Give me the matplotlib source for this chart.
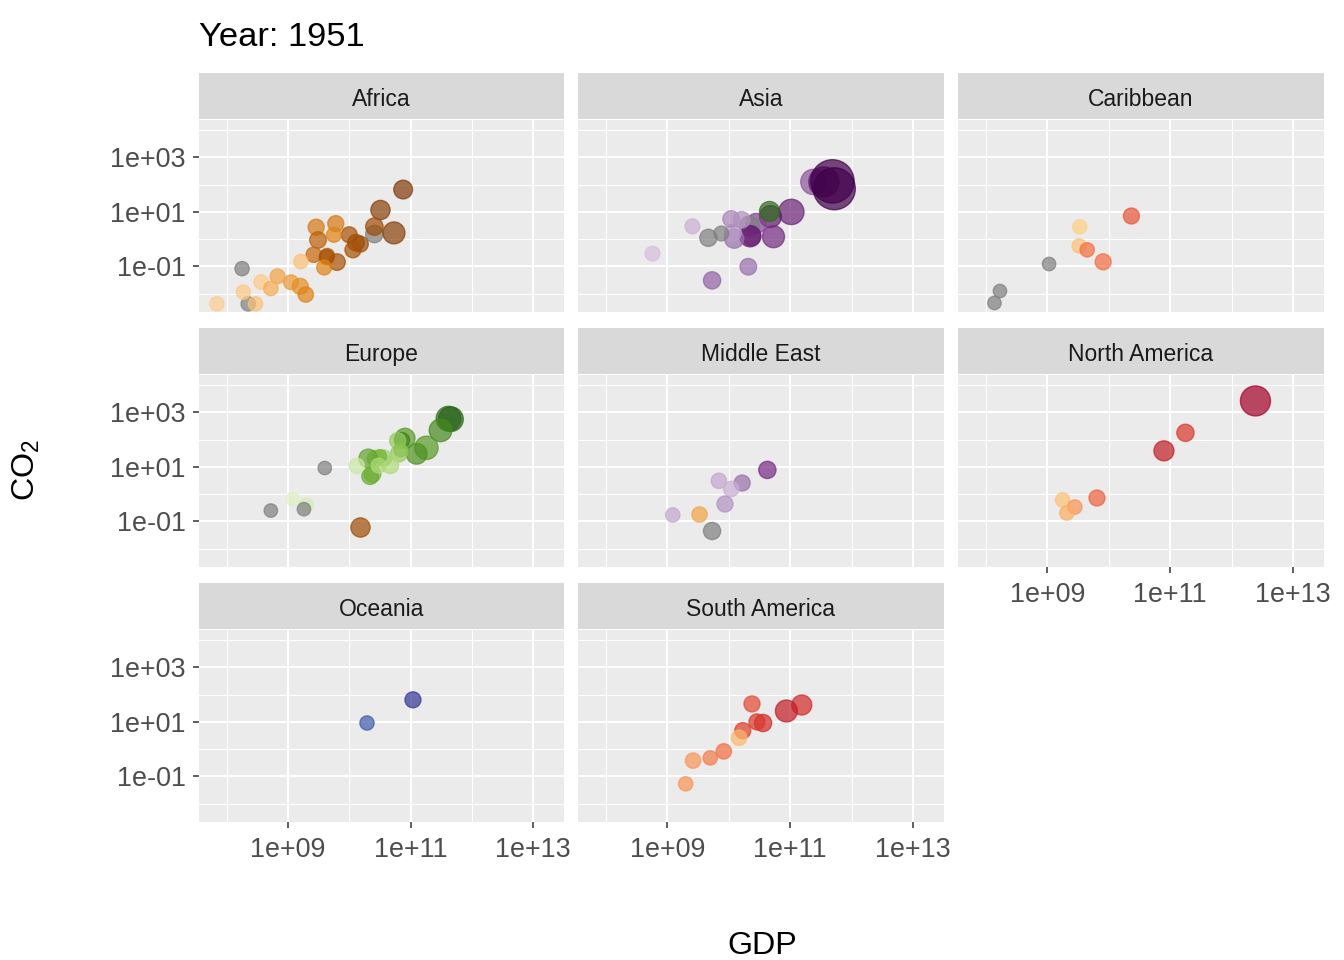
import matplotlib
matplotlib.use('Agg')
import matplotlib.pyplot as plt
import numpy as np
from matplotlib.colors import LinearSegmentedColormap

plt.rcParams['font.family'] = ['Liberation Sans', 'DejaVu Sans']
plt.rcParams['mathtext.default'] = 'regular'

# values: log10 gdp, log10 co2, population (millions, rough),
# income level 0-1 (nan = no data, drawn grey)
nan = float('nan')

africa_gdp = [8.25, 8.35, 10.41, 10.88, 10.51, 10.41, 10.73, 10.00, 9.78, 9.46, 9.75, 9.49, 10.11, 10.18, 10.06, 9.42, 9.64,
              9.63, 9.80, 9.59, 9.21, 8.83, 8.56, 8.72, 9.05, 9.20, 9.29, 8.27, 7.84, 8.47]
africa_co2 = [-1.08, -2.37, 0.19, 1.82, 1.07, 0.46, 0.23, 0.16, 0.57, 0.44, 0.16, -0.03, -0.13, -0.18, -0.39, -0.57, -0.61,
              -0.66, -0.84, -1.04, -0.82, -1.36, -1.57, -1.81, -1.58, -1.73, -2.03, -1.94, -2.37, -2.37]
africa_pop = [1, 1, 12, 20, 24, 12, 49, 5.5, 5.5, 5.5, 2, 8, 8, 5.5, 5.5, 3.3, 2, 2, 8, 2, 1, 2, 1, 1, 2, 5.5, 3.3, 1, 1, 1]
africa_level = [nan, nan, nan, 1.0, 0.95, 0.85, 0.95, 0.8, 0.55, 0.55, 0.5, 0.7, 0.85, 0.85, 0.8, 0.65, 0.75,
                0.8, 0.8, 0.5, 0.2, 0.35, 0.15, 0.3, 0.4, 0.45, 0.5, 0.15, 0.12, 0.2]

asia_gdp = [11.38, 11.55, 11.69, 11.72, 11.02, 10.68, 10.45, 10.34, 10.73, 10.35, 10.37, 10.09, 10.07, 10.04,
            10.21, 9.88, 9.67, 9.41, 8.76, 10.32, 9.73]
asia_co2 = [2.10, 2.10, 2.12, 1.85, 1.00, 0.83, 0.58, 0.48, 0.09, 0.11, 0.11, 0.02, 0.24, 0.74, 0.71, 0.21, 0.05,
            0.47, -0.53, -1.01, -1.51]
asia_pop = [93, 177, 563, 514, 93, 49, 30, 30, 49, 42, 20, 24, 8, 8, 8, 2, 11, 2, 2, 8, 11]
asia_level = [0.6, 0.85, 1.0, 1.0, 0.8, 0.85, 0.65, nan, 0.75, 0.85, 0.8, 0.5, 0.3, 0.4, 0.35, nan, nan, 0.2, 0.12, 0.5, 0.55]

caribbean_gdp = [10.37, 9.53, 9.52, 9.65, 9.91, 9.03, 8.23, 8.14]
caribbean_co2 = [0.85, 0.45, -0.25, -0.39, -0.83, -0.91, -1.90, -2.34]
caribbean_pop = [5.5, 1, 1, 1, 5.5, 0.1, 0.1, 0.1]
caribbean_level = [0.6, 0.08, 0.15, 0.5, 0.5, nan, nan, nan]

europe_gdp = [11.62, 11.66, 11.49, 11.26, 11.10, 10.91, 10.86, 10.79, 10.81, 10.84, 10.67, 10.56, 10.50, 10.43,
              10.31, 10.38, 10.34, 10.48, 10.12, 9.08, 9.30, 9.60, 8.72, 9.26]
europe_co2 = [2.77, 2.75, 2.34, 1.70, 1.48, 2.05, 1.98, 1.96, 1.49, 1.62, 1.06, 1.33, 1.39, 1.30, 1.31, 0.74, 0.66,
              1.05, 1.04, -0.18, -0.40, 0.96, -0.60, -0.55]
europe_pop = [83, 83, 57, 65, 36, 30, 3.3, 5.5, 8, 0.1, 8, 5.5, 0.1, 8, 20, 8, 8, 2, 3.3, 0.1, 0.6, 0.1, 0.1, 0.1]
europe_level = [0.95, 1.0, 0.8, 0.7, 0.75, 0.7, 0.85, 0.4, 0.4, 0.45, 0.3, 0.35, 0.55, 0.5, 0.65, 0.55, 0.6, 0.3,
                0.15, 0.05, 0.1, nan, nan, nan]

mideast_gdp = [10.63, 10.22, 9.84, 10.04, 9.94, 9.09, 9.73]
mideast_co2 = [0.89, 0.41, 0.49, 0.19, -0.36, -0.76, -1.35]
mideast_pop = [11, 5.5, 3.3, 3.3, 5.5, 1, 11]
mideast_level = [0.75, 0.5, 0.25, 0.2, 0.35, 0.25, nan]

namerica_gdp = [12.39, 11.25, 10.90, 9.81, 9.25, 9.45, 9.32]
namerica_co2 = [3.42, 2.25, 1.59, -0.14, -0.21, -0.47, -0.69]
namerica_pop = [177, 11, 30, 5.5, 1, 1, 1]
namerica_level = [1.0, 0.72, 0.85, 0.55, 0.15, 0.35, 0.25]

oceania_gdp = [11.04, 10.29]
oceania_co2 = [1.81, 0.96]
oceania_pop = [5.5, 1]
oceania_level = [1.0, 0.4]

samerica_gdp = [11.19, 10.94, 10.38, 10.56, 10.46, 10.23, 10.17, 9.92, 9.70, 9.42, 9.30]
samerica_co2 = [1.62, 1.40, 1.66, 0.96, 1.00, 0.68, 0.42, -0.08, -0.32, -0.42, -1.27]
samerica_pop = [30, 49, 5.5, 11, 5.5, 5.5, 3.3, 3.3, 1, 3.3, 1]
samerica_level = [0.78, 0.85, 0.65, 0.78, 0.72, 0.7, 0.2, 0.5, 0.45, 0.35, 0.35]

# countries coloured with another continent's ramp
odd_panel = ['Asia', 'Europe', 'Middle East']
odd_ramp = ['green', 'orange', 'orange']
odd_gdp = [10.65, 10.17, 9.52]
odd_co2 = [1.05, -1.19, -0.72]
odd_pop = [30, 24, 3.3]
odd_level = [0.95, 0.85, 0.35]

ramps = {
    'orange': ['#FEE0B6', '#FDB863', '#E08214', '#B35806', '#7F3B08'],
    'purple': ['#E7D4E8', '#C2A5CF', '#9970AB', '#762A83', '#40004B'],
    'green': ['#E6F5D0', '#B8E186', '#7FBC41', '#4D9221', '#276419'],
    'red': ['#FEE090', '#FDAE61', '#F46D43', '#D73027', '#A50026'],
    'blue': ['#4575B4', '#313695'],
}
cmaps = {k: LinearSegmentedColormap.from_list(k, v) for k, v in ramps.items()}

panels = [
    ('Africa', africa_gdp, africa_co2, africa_pop, africa_level, 'orange'),
    ('Asia', asia_gdp, asia_co2, asia_pop, asia_level, 'purple'),
    ('Caribbean', caribbean_gdp, caribbean_co2, caribbean_pop, caribbean_level, 'red'),
    ('Europe', europe_gdp, europe_co2, europe_pop, europe_level, 'green'),
    ('Middle East', mideast_gdp, mideast_co2, mideast_pop, mideast_level, 'purple'),
    ('North America', namerica_gdp, namerica_co2, namerica_pop, namerica_level, 'red'),
    ('Oceania', oceania_gdp, oceania_co2, oceania_pop, oceania_level, 'blue'),
    ('South America', samerica_gdp, samerica_co2, samerica_pop, samerica_level, 'red'),
]

W, H = 1344, 960
col_x = [(199, 564), (578, 944), (958, 1324)]
row_y = [(73, 120, 312), (328, 375, 567), (583, 630, 822)]


def px_rect(x0, x1, y0, y1):
    return [x0 / W, 1 - y1 / H, (x1 - x0) / W, (y1 - y0) / H]


def sizes(pop):
    # pixel radius from population, then to points^2
    r = 6.5 + 15 * np.sqrt(np.array(pop) / 550)
    return (2 * r * 0.72) ** 2


def draw(ax, gdp, co2, pop, level, ramp):
    level = np.array(level, dtype=float)
    colors = ['#7F7F7F' if np.isnan(v) else cmaps[ramp](v) for v in level]
    ax.scatter(10 ** np.array(gdp), 10 ** np.array(co2), s=sizes(pop), c=colors, alpha=0.7,
               edgecolors=colors, linewidths=1, zorder=3)


fig = plt.figure(figsize=(W / 100, H / 100), dpi=100)

for i, (name, gdp, co2, pop, level, ramp) in enumerate(panels):
    row, col = i // 3, i % 3
    x0, x1 = col_x[col]
    s0, p0, p1 = row_y[row]
    ax = fig.add_axes(px_rect(x0, x1, p0, p1), facecolor='#EBEBEB')
    ax.set_xscale('log')
    ax.set_yscale('log')
    ax.set_xlim(10 ** 7.547, 10 ** 13.506)
    ax.set_ylim(10 ** -2.67, 10 ** 4.37)
    ax.set_xticks([1e9, 1e11, 1e13], ['1e+09', '1e+11', '1e+13'])
    ax.set_yticks([1e-1, 1e1, 1e3], ['1e-01', '1e+01', '1e+03'])
    ax.set_xticks([1e8, 1e10, 1e12], minor=True, labels=[])
    ax.set_yticks([1e-2, 1e0, 1e2, 1e4], minor=True, labels=[])
    ax.grid(which='major', color='white', lw=1.5)
    ax.grid(which='minor', color='white', lw=0.75)
    ax.set_axisbelow(True)
    for sp in ax.spines.values():
        sp.set_visible(False)
    ax.tick_params(which='minor', length=0)
    show_x = i >= 5
    ax.tick_params(axis='x', which='major', length=4, width=1.1, color='#333333', labelcolor='#4D4D4D',
                   labelsize=19.4, pad=6.5, bottom=show_x, labelbottom=show_x)
    ax.tick_params(axis='y', which='major', length=4, width=1.1, color='#333333', labelcolor='#4D4D4D',
                   labelsize=19.4, pad=5.5, left=col == 0, labelleft=col == 0)

    draw(ax, gdp, co2, pop, level, ramp)
    for j, p in enumerate(odd_panel):
        if p == name:
            draw(ax, [odd_gdp[j]], [odd_co2[j]], [odd_pop[j]], [odd_level[j]], odd_ramp[j])

    strip = fig.add_axes(px_rect(x0, x1, s0, p0 - 1), facecolor='#D9D9D9')
    strip.set_xticks([])
    strip.set_yticks([])
    for sp in strip.spines.values():
        sp.set_visible(False)
    strip.text(0.5, 0.42, name, ha='center', va='center', fontsize=16.5, color='#1A1A1A', transform=strip.transAxes)

fig.text(199 / W, 1 - 37 / H, 'Year: 1951', fontsize=24.8, ha='left', va='center', color='black')
fig.text(762 / W, 1 - 946 / H, 'GDP', fontsize=23.2, ha='center', va='center', color='black')
fig.text(26 / W, 1 - 470 / H, 'CO$_2$', fontsize=23.2, rotation=90, ha='center', va='center', color='black')

fig.savefig('out.png', dpi=100)
